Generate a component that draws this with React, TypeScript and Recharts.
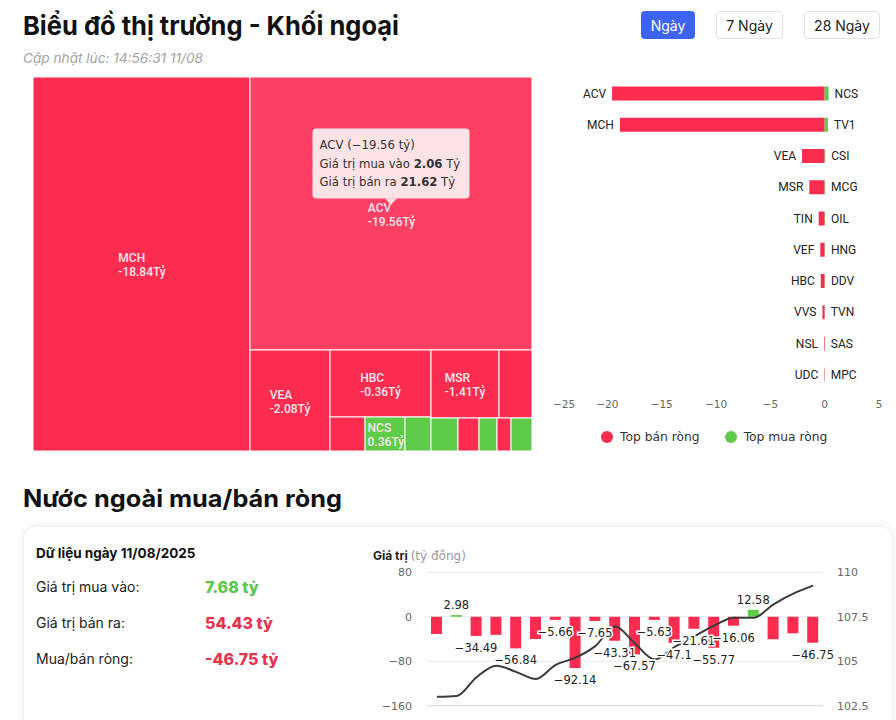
import {
  Treemap,
  BarChart,
  Bar,
  XAxis,
  YAxis,
  LabelList,
  ComposedChart,
  Line,
  CartesianGrid,
  Cell,
} from 'recharts'

// ---- treemap (khối ngoại theo mã) ----
// block: '' = ô riêng, 'A' / 'B' = nhóm ô nhỏ ở góc dưới
const TM_NAMES = ['MCH', 'ACV', 'VEA', 'HBC', 'TIN', 'NCS', 'TV1', 'MSR', 'VEF', 'CSI', 'VVS', 'MCG', 'NSL', 'OIL']
const TM_BLOCK = ['', '', '', 'A', 'A', 'A', 'A', 'B', 'B', 'B', 'B', 'B', 'B', 'B']
const TM_SIZE = [81.158, 76.986, 8.08, 6.767, 1.2, 1.36, 0.874, 4.623, 2.2, 0.9, 0.7, 0.6, 0.45, 0.728]
const TM_NET = [-18.84, -19.56, -2.08, -0.36, -0.55, 0.36, 0.3, -1.41, -0.4, 0.05, -0.2, 0.04, -0.06, 0.03]

const ACTIVE_NAME = 'ACV'
const ACTIVE_BUY = 2.06
const ACTIVE_SELL = 21.62

// ---- top bán / mua ròng ----
const SELL_NAMES = ['ACV', 'MCH', 'VEA', 'MSR', 'TIN', 'VEF', 'HBC', 'VVS', 'NSL', 'UDC']
const SELL_VALUES = [-19.56, -18.84, -2.08, -1.41, -0.55, -0.4, -0.36, -0.2, -0.06, -0.04]
const BUY_NAMES = ['NCS', 'TV1', 'CSI', 'MCG', 'OIL', 'HNG', 'DDV', 'TVN', 'SAS', 'MPC']
const BUY_VALUES = [0.36, 0.3, 0.05, 0.04, 0.03, 0.02, 0.02, 0.01, 0.01, 0.01]
const BAR_TICKS = [-25, -20, -15, -10, -5, 0, 5]

// ---- mua/bán ròng theo ngày ----
const DATES = [
  '15/07', '16/07', '17/07', '18/07', '21/07', '22/07', '23/07', '24/07', '25/07', '28/07',
  '29/07', '30/07', '31/07', '01/08', '04/08', '05/08', '06/08', '07/08', '08/08', '11/08',
]
const NET_FLOW = [
  -31, 2.98, -34.49, -32.5, -56.84, -40, -5.66, -92.14, -7.65, -43.31,
  -67.57, -5.63, -47.1, -21.61, -55.77, -16.06, 12.58, -40.5, -29.7, -46.75,
]
const INDEX_LINE = [
  103.0, 103.05, 104.1, 104.75, 104.4, 104.0, 104.8, 105.2, 105.85, 106.95,
  106.0, 105.1, 105.8, 106.4, 107.0, 107.45, 107.45, 108.2, 108.8, 109.25,
]
const HIDDEN_LABELS = [0, 3, 5, 17, 18]

const RED = '#fb2c50'
const RED_ACTIVE = '#fd4064'
const GREEN = '#5fcc49'
const TEXT_FONT = 'Inter, Roboto, sans-serif'
const NUM_FONT = '"DejaVu Sans", Verdana, sans-serif'

const tmData: any[] = []
TM_NAMES.forEach((name, i) => {
  const leaf = { name, size: TM_SIZE[i], net: TM_NET[i] }
  const block = TM_BLOCK[i]
  if (!block) {
    tmData.push(leaf)
    return
  }
  let group = tmData.find((d) => d.name === block)
  if (!group) {
    group = { name: block, children: [] }
    tmData.push(group)
  }
  group.children.push(leaf)
})

const barRows = SELL_NAMES.map((name, i) => ({
  sellName: name,
  sell: SELL_VALUES[i],
  buyName: BUY_NAMES[i],
  buy: BUY_VALUES[i],
}))
const flowData = DATES.map((date, i) => ({ date, net: NET_FLOW[i], index: INDEX_LINE[i] }))

const minus = (v: number | string) => String(v).replace('-', '\u2212')

function boxOf(p: any) {
  const v = p.viewBox ?? p
  const x = Number(v.x)
  const y = Number(v.y)
  const w = Number(v.width)
  const h = Number(v.height)
  return { left: Math.min(x, x + w), right: Math.max(x, x + w), top: Math.min(y, y + h), bottom: Math.max(y, y + h) }
}

function renderTreeCell(props: any) {
  const { x, y, width, height, depth, name, net, children } = props
  if (depth === 0 || (Array.isArray(children) && children.length > 0)) return null
  const active = name === ACTIVE_NAME
  const fill = net >= 0 ? GREEN : active ? RED_ACTIVE : RED
  const cx = x + width / 2
  const cy = y + height / 2
  const valueText = `${net.toFixed(2)}Tỷ`
  const left = cx - (valueText.length * 5.8) / 2
  const showLabel = width >= 38 && height >= 20
  const tw = 157
  const th = 70
  const tx = cx - tw / 2
  const ty = cy - 15 - th
  return (
    <g>
      <rect x={x} y={y} width={width} height={height} fill={fill} stroke="#fff" strokeWidth={1} />
      {showLabel && (
        <text x={left} y={cy - 2} fill="#fde6ec" fontSize={12} fontWeight={500} fontFamily="Roboto, sans-serif">
          <tspan x={left}>{name}</tspan>
          <tspan x={left} dy={14}>{valueText}</tspan>
        </text>
      )}
      {active && (
        <g fontFamily={NUM_FONT} fontSize={11.7} fill="#333">
          <rect x={tx} y={ty} width={tw} height={th} rx={4} fill="#fde2e6" />
          <polygon points={`${cx - 6},${ty + th} ${cx + 6},${ty + th} ${cx},${ty + th + 6}`} fill="#fde2e6" />
          <text x={tx + 7} y={ty + 20.5}>{`${name} (${minus(net.toFixed(2))} tỷ)`}</text>
          <text x={tx + 7} y={ty + 39}>
            Giá trị mua vào <tspan fontWeight="bold">{ACTIVE_BUY.toFixed(2)}</tspan> Tỷ
          </text>
          <text x={tx + 7} y={ty + 57.5}>
            Giá trị bán ra <tspan fontWeight="bold">{ACTIVE_SELL.toFixed(2)}</tspan> Tỷ
          </text>
        </g>
      )}
    </g>
  )
}

function renderSellLabel(p: any) {
  const b = boxOf(p)
  return (
    <text x={b.left - 6} y={(b.top + b.bottom) / 2} textAnchor="end" dominantBaseline="central"
      fontSize={12} fontFamily="Roboto, sans-serif" fill="#222">
      {p.value}
    </text>
  )
}

function renderBuyLabel(p: any) {
  const b = boxOf(p)
  return (
    <text x={b.right + 6} y={(b.top + b.bottom) / 2} textAnchor="start" dominantBaseline="central"
      fontSize={12} fontFamily="Roboto, sans-serif" fill="#222">
      {p.value}
    </text>
  )
}

function renderBarTick(p: any) {
  const v = p.payload.value
  return (
    <text x={p.x} y={p.y} dy="0.71em" textAnchor={v === BAR_TICKS[0] ? 'start' : 'middle'}
      fontSize={10.5} fontFamily={NUM_FONT} fill="#666">
      {minus(v)}
    </text>
  )
}

function renderNetLabel(p: any) {
  if (HIDDEN_LABELS.includes(p.index)) return null
  const b = boxOf(p)
  const v = Number(p.value)
  const y = v < 0 ? b.bottom + 12 : b.top - 10
  return (
    <text x={(b.left + b.right) / 2} y={y} textAnchor="middle" dominantBaseline="central"
      fontSize={11.5} fontFamily={NUM_FONT} fill="#222" stroke="#fff" strokeWidth={3}
      paintOrder="stroke">
      {minus(v)}
    </text>
  )
}

function renderDateTick(p: any) {
  return (
    <g transform={`translate(${p.x},${p.y + 12})`}>
      <text textAnchor="end" transform="rotate(-45)" fontSize={11} fontFamily={NUM_FONT} fill="#666">
        {p.payload.value}
      </text>
    </g>
  )
}

const btn = {
  position: 'absolute' as const,
  top: 11,
  height: 28,
  boxSizing: 'border-box' as const,
  borderRadius: 4,
  fontSize: 14,
  display: 'flex',
  alignItems: 'center',
  justifyContent: 'center',
  fontFamily: TEXT_FONT,
}

const rowLabel = { position: 'absolute' as const, left: 36, fontSize: 14, color: '#222', fontFamily: TEXT_FONT }
const rowValue = { position: 'absolute' as const, left: 205, fontSize: 16, fontWeight: 800, fontFamily: TEXT_FONT }

export default function App() {
  return (
    <div style={{ position: 'relative', width: 896, height: 760, background: '#fff', overflow: 'hidden' }}>
      <style>{'body{margin:0}'}</style>

      <svg width={896} height={70} style={{ position: 'absolute', left: 0, top: 0 }}>
        <text x={23} y={35} fontSize={26} fontWeight={700} fontFamily={TEXT_FONT} fill="#111"
          textLength={376} lengthAdjust="spacingAndGlyphs">
          Biểu đồ thị trường - Khối ngoại
        </text>
        <text x={23} y={63} fontSize={13} fontStyle="italic" fontFamily={TEXT_FONT} fill="#a3a3a3"
          textLength={180} lengthAdjust="spacingAndGlyphs">
          Cập nhật lúc: 14:56:31 11/08
        </text>
      </svg>
      <div style={{ ...btn, left: 641, width: 54, background: '#3d64f0', color: '#fff' }}>Ngày</div>
      <div style={{ ...btn, left: 716, width: 67, border: '1px solid #e2e2e2', color: '#222' }}>7 Ngày</div>
      <div style={{ ...btn, left: 804, width: 76, border: '1px solid #e2e2e2', color: '#222' }}>28 Ngày</div>

      <div style={{ position: 'absolute', left: 33, top: 77 }}>
        <Treemap
          width={499}
          height={374}
          data={tmData}
          dataKey="size"
          nameKey="name"
          aspectRatio={1}
          isAnimationActive={false}
          content={renderTreeCell}
        />
      </div>

      <div style={{ position: 'absolute', left: 545, top: 70 }}>
        <BarChart
          width={346}
          height={350}
          data={barRows}
          layout="vertical"
          stackOffset="sign"
          barSize={14}
          margin={{ top: 7.5, right: 12, bottom: 0, left: 8 }}
        >
          <XAxis
            type="number"
            domain={[-25, 5]}
            ticks={BAR_TICKS}
            interval={0}
            axisLine={false}
            tickLine={false}
            height={30}
            tickMargin={5}
            tick={renderBarTick}
          />
          <YAxis type="category" dataKey="sellName" hide />
          <Bar dataKey="sell" stackId="s" fill={RED} isAnimationActive={false}>
            <LabelList dataKey="sellName" content={renderSellLabel} />
          </Bar>
          <Bar dataKey="buy" stackId="s" fill={GREEN} isAnimationActive={false}>
            <LabelList dataKey="buyName" content={renderBuyLabel} />
          </Bar>
        </BarChart>
      </div>

      <div style={{ position: 'absolute', top: 430, left: 601, display: 'flex', alignItems: 'center', fontFamily: NUM_FONT, fontSize: 12.3, color: '#333' }}>
        <span style={{ width: 12, height: 12, borderRadius: 6, background: RED, marginRight: 7 }} />
        <span>Top bán ròng</span>
        <span style={{ width: 12, height: 12, borderRadius: 6, background: GREEN, marginLeft: 25, marginRight: 7 }} />
        <span>Top mua ròng</span>
      </div>

      <svg width={400} height={40} style={{ position: 'absolute', left: 0, top: 480 }}>
        <text x={23} y={27} fontSize={24} fontWeight={700} fontFamily={TEXT_FONT} fill="#111"
          textLength={319} lengthAdjust="spacingAndGlyphs">
          Nước ngoài mua/bán ròng
        </text>
      </svg>

      <div style={{
        position: 'absolute', left: 23, top: 526, width: 868, height: 260, borderRadius: 12,
        background: '#fff', boxShadow: '0 0 8px rgba(0,0,0,0.07)', border: '1px solid #f1f2f4',
      }} />

      <div style={{ position: 'absolute', left: 36, top: 545, fontSize: 13.5, fontWeight: 700, fontFamily: TEXT_FONT, color: '#111' }}>
        Dữ liệu ngày 11/08/2025
      </div>
      <div style={{ ...rowLabel, top: 578 }}>Giá trị mua vào:</div>
      <div style={{ ...rowValue, top: 577, color: '#5cc64d' }}>7.68 tỷ</div>
      <div style={{ ...rowLabel, top: 614 }}>Giá trị bán ra:</div>
      <div style={{ ...rowValue, top: 613, color: '#e8334f' }}>54.43 tỷ</div>
      <div style={{ ...rowLabel, top: 650 }}>Mua/bán ròng:</div>
      <div style={{ ...rowValue, top: 649, color: '#e8334f' }}>-46.75 tỷ</div>

      <div style={{ position: 'absolute', left: 373, top: 548, fontSize: 12, whiteSpace: 'nowrap' }}>
        <span style={{ fontWeight: 700, fontFamily: TEXT_FONT, color: '#222' }}>Giá trị</span>
        <span style={{ fontFamily: NUM_FONT, color: '#999', marginLeft: 3 }}>(tỷ đồng)</span>
      </div>

      <div style={{ position: 'absolute', left: 360, top: 540 }}>
        <ComposedChart width={520} height={200} data={flowData} margin={{ top: 32.3, right: 0, bottom: 0, left: 0 }}>
          <CartesianGrid yAxisId="left" vertical={false} stroke="#e6e8ec" />
          <XAxis
            dataKey="date"
            interval={0}
            axisLine={{ stroke: '#d3d9e0' }}
            tickLine={false}
            height={34.3}
            tick={renderDateTick}
          />
          <YAxis
            yAxisId="left"
            domain={[-160, 80]}
            ticks={[-160, -80, 0, 80]}
            width={67}
            axisLine={false}
            tickLine={false}
            tickMargin={9}
            tickFormatter={minus}
            tick={{ fill: '#666', fontSize: 11, fontFamily: NUM_FONT }}
          />
          <YAxis
            yAxisId="right"
            orientation="right"
            domain={[102.5, 110]}
            ticks={[102.5, 105, 107.5, 110]}
            width={57}
            axisLine={false}
            tickLine={false}
            tickMargin={8}
            tick={{ fill: '#666', fontSize: 11, fontFamily: NUM_FONT }}
          />
          <Bar yAxisId="left" dataKey="net" barSize={11} isAnimationActive={false}>
            {flowData.map((d) => (
              <Cell key={d.date} fill={d.net >= 0 ? GREEN : RED} />
            ))}
            <LabelList dataKey="net" content={renderNetLabel} />
          </Bar>
          <Line
            yAxisId="right"
            dataKey="index"
            type="monotone"
            stroke="#3a3a3a"
            strokeWidth={2}
            dot={false}
            isAnimationActive={false}
          />
        </ComposedChart>
      </div>
    </div>
  )
}
